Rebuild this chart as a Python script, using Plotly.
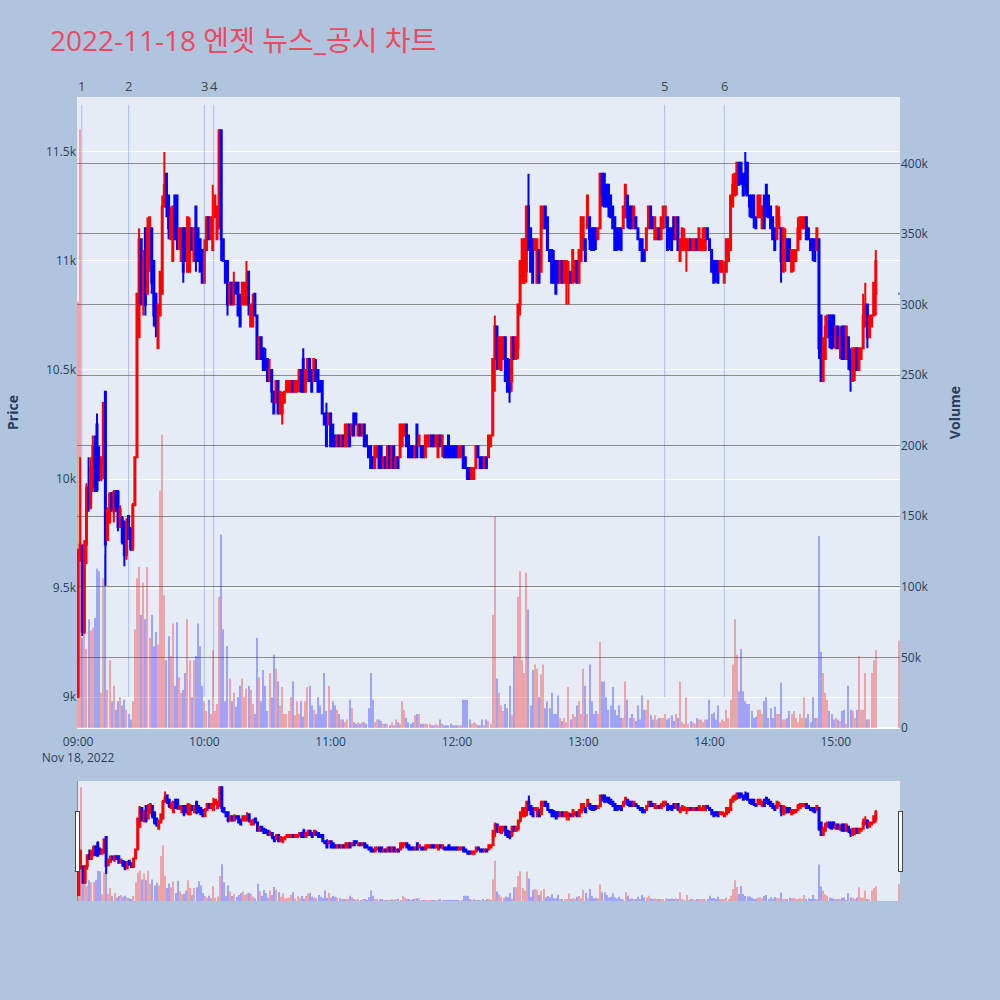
import pandas as pd
import plotly.graph_objects as go
from plotly.subplots import make_subplots

TITLE = "2022-11-18 엔젯 뉴스_공시 차트"

# minute timestamps: 09:00 .. 15:19 continuous, then the 15:30 closing auction
times = list(pd.date_range("2022-11-18 09:00", periods=380, freq="min")) + [pd.Timestamp("2022-11-18 15:30")]

open_ = [
    9000, 9650, 9690, 9300, 9700, 9960, 9870, 10050, 10150, 10250,
    10100, 10000, 10050, 10400, 9720, 9800, 9930, 9850, 9940, 9940,
    9780, 9820, 9800, 9650, 9830, 9770, 9680, 9880, 10100, 10650,
    11100, 10800, 11150, 10850, 11000, 11150, 11000, 10850, 10600, 10750,
    10850, 11250, 11400, 11300, 11100, 11000, 11300, 11300, 11100, 11000,
    11150, 11150, 10950, 10950, 11150, 11000, 11250, 11150, 11100, 11050,
    10900, 11050, 11200, 11100, 11050, 11200, 11100, 11150, 11600, 11100,
    11000, 11000, 10800, 10900, 10800, 10900, 10900, 10800, 10800, 10800,
    10800, 10950, 10700, 10700, 10850, 10750, 10550, 10650, 10600, 10550,
    10550, 10450, 10500, 10400, 10350, 10450, 10300, 10300, 10350, 10400,
    10400, 10400, 10450, 10400, 10400, 10450, 10500, 10550, 10400, 10450,
    10550, 10500, 10450, 10500, 10500, 10450, 10450, 10300, 10300, 10250,
    10300, 10250, 10200, 10150, 10200, 10150, 10200, 10150, 10150, 10250,
    10200, 10300, 10300, 10200, 10250, 10200, 10250, 10200, 10150, 10150,
    10100, 10050, 10100, 10150, 10150, 10050, 10100, 10050, 10150, 10050,
    10150, 10050, 10100, 10100, 10150, 10200, 10250, 10200, 10150, 10150,
    10100, 10250, 10150, 10150, 10150, 10100, 10150, 10150, 10200, 10200,
    10150, 10100, 10200, 10150, 10150, 10150, 10200, 10150, 10150, 10150,
    10150, 10100, 10100, 10150, 10100, 10050, 10050, 10000, 10000, 10050,
    10150, 10100, 10100, 10050, 10100, 10100, 10150, 10200, 10550, 10700,
    10550, 10500, 10550, 10650, 10550, 10450, 10450, 10650, 10550, 10600,
    10800, 10900, 10900, 10950, 11250, 11150, 11100, 11050, 10900, 11050,
    10950, 11150, 11250, 11200, 11050, 11050, 11000, 11000, 11000, 10900,
    11000, 10900, 10900, 10900, 10950, 10900, 10950, 11000, 10900, 11000,
    11050, 11100, 11150, 11200, 11150, 11150, 11150, 11100, 11150, 11400,
    11400, 11350, 11350, 11300, 11250, 11200, 11150, 11150, 11150, 11150,
    11200, 11300, 11250, 11250, 11150, 11200, 11150, 11100, 11100, 11050,
    11050, 11150, 11250, 11200, 11100, 11100, 11150, 11100, 11150, 11200,
    11200, 11150, 11150, 11200, 11100, 11200, 11000, 11050, 11050, 11050,
    11050, 11100, 11050, 11050, 11100, 11050, 11050, 11050, 11050, 11150,
    11100, 11050, 11000, 11000, 11000, 10950, 10950, 10900, 10950, 11000,
    11050, 11250, 11300, 11350, 11450, 11450, 11400, 11400, 11450, 11300,
    11300, 11300, 11200, 11200, 11200, 11150, 11300, 11350, 11300, 11250,
    11200, 11150, 11100, 11150, 11150, 10950, 11000, 11100, 11100, 10950,
    11000, 11000, 11050, 11100, 11150, 11150, 11200, 11150, 11100, 11100,
    11100, 11050, 11100, 10750, 10450, 10550, 10650, 10750, 10750, 10750,
    10600, 10700, 10600, 10700, 10700, 10550, 10650, 10550, 10450, 10500,
    10600, 10500, 10550, 10600, 10700, 10800, 10650, 10700, 10750, 10850,
    10850,
]
high = [
    9680, 10100, 9700, 9720, 9980, 10100, 10100, 10200, 10200, 10300,
    10150, 10100, 10350, 10400, 9870, 9940, 9940, 9950, 9950, 9950,
    9880, 9830, 9810, 9820, 9830, 9780, 9890, 10100, 10850, 11150,
    11100, 11050, 11150, 11200, 11200, 11150, 11000, 10850, 10800, 10950,
    11300, 11500, 11400, 11300, 11250, 11250, 11300, 11300, 11150, 11150,
    11150, 11150, 11200, 11200, 11150, 11150, 11250, 11150, 11100, 11050,
    11100, 11200, 11200, 11200, 11350, 11300, 11250, 11600, 11600, 11100,
    11000, 11000, 10900, 10900, 10950, 10900, 10900, 10850, 10900, 10900,
    11000, 10950, 10800, 10850, 10850, 10750, 10650, 10650, 10600, 10600,
    10550, 10550, 10500, 10400, 10450, 10450, 10400, 10400, 10400, 10450,
    10450, 10450, 10450, 10450, 10450, 10500, 10500, 10600, 10500, 10550,
    10550, 10500, 10550, 10550, 10500, 10450, 10450, 10300, 10350, 10300,
    10300, 10250, 10200, 10200, 10200, 10200, 10200, 10250, 10250, 10250,
    10250, 10300, 10300, 10250, 10250, 10250, 10250, 10200, 10150, 10150,
    10100, 10150, 10150, 10150, 10150, 10100, 10100, 10150, 10150, 10150,
    10150, 10100, 10100, 10250, 10250, 10250, 10250, 10200, 10150, 10150,
    10150, 10250, 10200, 10150, 10150, 10200, 10200, 10200, 10200, 10200,
    10200, 10200, 10200, 10200, 10150, 10150, 10200, 10150, 10150, 10150,
    10150, 10150, 10150, 10150, 10100, 10050, 10050, 10050, 10050, 10150,
    10150, 10100, 10100, 10100, 10100, 10200, 10200, 10550, 10750, 10700,
    10650, 10650, 10650, 10650, 10550, 10550, 10650, 10650, 10650, 10800,
    11000, 11100, 11100, 11250, 11400, 11150, 11100, 11100, 11100, 11050,
    11250, 11250, 11250, 11200, 11050, 11050, 11050, 11000, 11000, 11000,
    11000, 11000, 11000, 11000, 10950, 11050, 11000, 11000, 11050, 11200,
    11200, 11100, 11300, 11200, 11150, 11150, 11150, 11150, 11400, 11400,
    11400, 11350, 11350, 11300, 11250, 11200, 11150, 11150, 11150, 11250,
    11350, 11300, 11250, 11250, 11250, 11200, 11150, 11100, 11100, 11050,
    11150, 11250, 11250, 11200, 11200, 11150, 11150, 11200, 11250, 11250,
    11200, 11150, 11150, 11200, 11200, 11200, 11100, 11150, 11150, 11100,
    11100, 11100, 11100, 11100, 11100, 11150, 11100, 11150, 11150, 11150,
    11100, 11050, 11000, 11000, 11000, 11000, 11000, 11000, 11100, 11100,
    11300, 11400, 11400, 11450, 11450, 11450, 11400, 11500, 11450, 11300,
    11300, 11300, 11200, 11300, 11300, 11250, 11300, 11350, 11300, 11250,
    11200, 11150, 11250, 11250, 11150, 11150, 11150, 11100, 11100, 11050,
    11050, 11050, 11200, 11200, 11200, 11200, 11200, 11150, 11100, 11100,
    11100, 11150, 11100, 10750, 10650, 10750, 10750, 10750, 10750, 10750,
    10700, 10700, 10700, 10700, 10700, 10700, 10650, 10600, 10600, 10600,
    10600, 10600, 10600, 10850, 10900, 10800, 10750, 10750, 10900, 11050,
    10850,
]
low = [
    9000, 9620, 9280, 9290, 9610, 9850, 9860, 9940, 9940, 9940,
    9990, 9990, 10000, 9510, 9720, 9800, 9850, 9800, 9850, 9760,
    9780, 9700, 9600, 9630, 9720, 9670, 9670, 9880, 10100, 10650,
    10800, 10750, 10750, 10850, 10950, 10850, 10700, 10650, 10600, 10750,
    10850, 11250, 11200, 11100, 11100, 11000, 11100, 11050, 11050, 11000,
    10900, 11000, 10950, 10950, 11050, 11000, 10950, 11000, 10950, 10900,
    10900, 11050, 11100, 11100, 11050, 11200, 11100, 11150, 11000, 11000,
    10900, 10750, 10800, 10800, 10800, 10850, 10750, 10700, 10800, 10800,
    10800, 10750, 10700, 10700, 10750, 10550, 10550, 10550, 10500, 10500,
    10450, 10450, 10350, 10300, 10350, 10300, 10300, 10250, 10350, 10400,
    10400, 10400, 10400, 10400, 10400, 10400, 10400, 10400, 10400, 10450,
    10450, 10400, 10450, 10450, 10400, 10400, 10300, 10250, 10150, 10250,
    10150, 10150, 10150, 10150, 10150, 10150, 10150, 10150, 10150, 10150,
    10200, 10200, 10250, 10200, 10200, 10200, 10150, 10150, 10100, 10050,
    10050, 10050, 10100, 10050, 10050, 10050, 10050, 10050, 10050, 10050,
    10050, 10050, 10050, 10100, 10150, 10200, 10150, 10100, 10100, 10100,
    10100, 10100, 10150, 10100, 10100, 10100, 10150, 10150, 10150, 10150,
    10150, 10100, 10150, 10100, 10100, 10100, 10100, 10100, 10100, 10100,
    10100, 10100, 10100, 10050, 10050, 10000, 10000, 10000, 10000, 10050,
    10100, 10050, 10050, 10050, 10050, 10100, 10150, 10200, 10400, 10500,
    10500, 10500, 10550, 10450, 10400, 10350, 10400, 10550, 10550, 10550,
    10750, 10900, 10900, 10900, 11050, 10950, 10900, 11050, 10900, 10900,
    10950, 11150, 11150, 11050, 11000, 10900, 10900, 10850, 10900, 10900,
    10900, 10900, 10800, 10800, 10900, 10900, 10900, 10900, 10900, 11000,
    11050, 11000, 11150, 11050, 11050, 11050, 11050, 11100, 11150, 11250,
    11250, 11250, 11200, 11200, 11150, 11050, 11050, 11050, 11050, 11150,
    11200, 11150, 11150, 11150, 11150, 11150, 11100, 11050, 11000, 11000,
    11050, 11150, 11150, 11150, 11100, 11100, 11100, 11100, 11150, 11150,
    11050, 11050, 11050, 11100, 11100, 11050, 11000, 11050, 11050, 10950,
    11050, 11050, 11050, 11050, 11050, 11050, 11050, 11050, 11050, 11100,
    11050, 10950, 10900, 10900, 10900, 10950, 10950, 10900, 10950, 11000,
    11050, 11250, 11300, 11300, 11350, 11350, 11300, 11300, 11300, 11200,
    11200, 11150, 11150, 11200, 11200, 11150, 11150, 11200, 11200, 11150,
    11100, 11050, 11100, 11150, 10900, 10950, 10950, 11000, 11000, 10950,
    10950, 11000, 11050, 11100, 11150, 11150, 11100, 11100, 11050, 11000,
    11000, 11050, 10550, 10450, 10450, 10550, 10650, 10600, 10600, 10600,
    10600, 10600, 10550, 10550, 10550, 10550, 10500, 10400, 10450, 10450,
    10500, 10500, 10550, 10600, 10700, 10600, 10650, 10700, 10750, 10750,
    10850,
]
close = [
    9660, 9700, 9300, 9700, 9960, 9870, 10050, 10150, 9960, 9950,
    10000, 10100, 10350, 9700, 9860, 9930, 9860, 9940, 9870, 9780,
    9860, 9710, 9650, 9800, 9730, 9680, 9880, 10100, 10850, 11100,
    10800, 11000, 10800, 11150, 11200, 10900, 10750, 10700, 10800, 10950,
    11250, 11350, 11250, 11150, 11200, 11250, 11100, 11100, 11150, 11150,
    10950, 11000, 11200, 11150, 11050, 11150, 11000, 11000, 10950, 10900,
    11050, 11200, 11100, 11200, 11200, 11300, 11250, 11600, 11100, 11000,
    10900, 10800, 10900, 10800, 10900, 10850, 10750, 10700, 10900, 10900,
    10900, 10800, 10800, 10800, 10750, 10550, 10650, 10550, 10500, 10500,
    10450, 10500, 10400, 10300, 10450, 10300, 10400, 10350, 10400, 10450,
    10450, 10450, 10400, 10450, 10450, 10500, 10400, 10400, 10500, 10550,
    10450, 10400, 10550, 10450, 10400, 10400, 10300, 10250, 10150, 10300,
    10150, 10150, 10150, 10200, 10150, 10200, 10150, 10250, 10250, 10150,
    10250, 10200, 10250, 10250, 10200, 10250, 10150, 10150, 10100, 10050,
    10050, 10150, 10150, 10050, 10050, 10100, 10050, 10150, 10050, 10150,
    10050, 10100, 10050, 10250, 10250, 10250, 10150, 10100, 10100, 10100,
    10150, 10100, 10200, 10100, 10100, 10200, 10200, 10200, 10150, 10150,
    10200, 10200, 10150, 10200, 10100, 10100, 10100, 10100, 10100, 10100,
    10100, 10150, 10150, 10050, 10050, 10000, 10000, 10050, 10050, 10150,
    10100, 10050, 10050, 10100, 10050, 10200, 10200, 10550, 10700, 10550,
    10650, 10650, 10650, 10450, 10400, 10400, 10650, 10550, 10650, 10800,
    11000, 11100, 11100, 11250, 11050, 10950, 10900, 11100, 11100, 10900,
    11250, 11250, 11150, 11050, 11000, 10900, 10900, 10850, 10900, 11000,
    10900, 11000, 11000, 10950, 10900, 11050, 11000, 10900, 11050, 11200,
    11200, 11000, 11300, 11100, 11050, 11050, 11100, 11150, 11400, 11300,
    11250, 11250, 11250, 11200, 11150, 11050, 11050, 11100, 11050, 11250,
    11350, 11200, 11150, 11150, 11250, 11150, 11100, 11050, 11000, 11000,
    11150, 11250, 11150, 11150, 11200, 11150, 11100, 11200, 11250, 11250,
    11050, 11100, 11050, 11100, 11200, 11050, 11100, 11150, 11100, 11100,
    11100, 11050, 11100, 11100, 11050, 11150, 11100, 11150, 11150, 11100,
    11050, 10950, 10900, 10950, 10900, 11000, 11000, 10950, 11100, 11100,
    11300, 11350, 11400, 11450, 11350, 11400, 11300, 11350, 11300, 11250,
    11200, 11200, 11150, 11300, 11300, 11250, 11150, 11250, 11200, 11150,
    11100, 11050, 11250, 11200, 11000, 11150, 11050, 11000, 11000, 11050,
    11050, 11050, 11150, 11200, 11200, 11200, 11100, 11100, 11050, 11050,
    11000, 11150, 10600, 10450, 10600, 10700, 10750, 10650, 10600, 10650,
    10700, 10600, 10650, 10550, 10550, 10700, 10550, 10500, 10600, 10600,
    10500, 10600, 10600, 10750, 10800, 10650, 10750, 10750, 10900, 11000,
    10850,
]
volume = [
    302000, 424000, 64000, 111000, 56000, 77000, 69000, 71000, 78000, 113000,
    111000, 25000, 106000, 123000, 27000, 48000, 19000, 30000, 13000, 19000,
    22000, 16000, 20000, 13000, 10000, 6000, 19000, 70000, 106000, 114000,
    80000, 103000, 77000, 114000, 64000, 80000, 58000, 68000, 59000, 168000,
    208000, 94000, 48000, 65000, 51000, 74000, 30000, 75000, 36000, 25000,
    27000, 39000, 77000, 48000, 22000, 48000, 51000, 74000, 58000, 30000,
    19000, 12000, 20000, 10000, 55000, 12000, 17000, 93000, 137000, 70000,
    19000, 58000, 35000, 19000, 25000, 15000, 22000, 30000, 35000, 22000,
    28000, 30000, 27000, 17000, 10000, 64000, 36000, 19000, 41000, 30000,
    12000, 39000, 22000, 52000, 42000, 33000, 16000, 29000, 10000, 10000,
    12000, 22000, 33000, 9000, 19000, 10000, 19000, 8000, 19000, 29000,
    30000, 16000, 13000, 10000, 22000, 16000, 10000, 39000, 12000, 30000,
    13000, 19000, 16000, 13000, 10000, 6000, 6000, 4000, 6000, 20000,
    14000, 4000, 3000, 4000, 3000, 4000, 4000, 3000, 14000, 39000,
    20000, 4000, 6000, 6000, 5000, 3000, 3000, 3000, 2000, 4000,
    2000, 6000, 4000, 3000, 19000, 13000, 7000, 4000, 3000, 4000,
    9000, 10000, 10000, 3000, 3000, 3000, 3000, 3000, 2000, 2000,
    3000, 2000, 6000, 3000, 2000, 2000, 2000, 3000, 2000, 2000,
    2000, 2000, 2000, 20000, 20000, 20000, 6000, 3000, 4000, 3000,
    2000, 2000, 6000, 2000, 6000, 5000, 3000, 80000, 150000, 35000,
    25000, 16000, 12000, 17000, 14000, 30000, 9000, 51000, 51000, 93000,
    111000, 48000, 39000, 110000, 84000, 16000, 41000, 45000, 42000, 22000,
    38000, 45000, 14000, 19000, 14000, 25000, 10000, 10000, 23000, 7000,
    5000, 7000, 4000, 29000, 6000, 10000, 8000, 16000, 19000, 10000,
    42000, 30000, 10000, 45000, 19000, 10000, 12000, 10000, 61000, 33000,
    33000, 22000, 13000, 16000, 29000, 13000, 9000, 16000, 7000, 7000,
    33000, 20000, 7000, 10000, 7000, 5000, 16000, 6000, 23000, 13000,
    13000, 20000, 9000, 6000, 9000, 6000, 7000, 7000, 7000, 10000,
    6000, 7000, 9000, 5000, 10000, 7000, 33000, 4000, 3000, 22000,
    3000, 5000, 4000, 3000, 7000, 6000, 6000, 4000, 6000, 6000,
    20000, 10000, 11000, 6000, 16000, 4000, 6000, 5000, 13000, 7000,
    20000, 45000, 77000, 52000, 26000, 56000, 26000, 19000, 17000, 17000,
    12000, 7000, 8000, 13000, 13000, 10000, 19000, 22000, 7000, 14000,
    7000, 15000, 10000, 10000, 32000, 6000, 6000, 7000, 12000, 10000,
    12000, 7000, 4000, 10000, 7000, 22000, 7000, 10000, 4000, 22000,
    7000, 7000, 136000, 54000, 39000, 25000, 20000, 12000, 10000, 6000,
    7000, 6000, 5000, 12000, 13000, 3000, 30000, 13000, 12000, 7000,
    13000, 51000, 13000, 13000, 39000, 6000, 6000, 39000, 48000, 55000,
    62000,
]

# news / disclosure markers
event_labels = ["1", "2", "3", "4", "5", "6"]
event_times = ["2022-11-18 09:01:45", "2022-11-18 09:24:00", "2022-11-18 10:00:00",
               "2022-11-18 10:04:25", "2022-11-18 13:38:40", "2022-11-18 14:07:00"]
line_low, line_high = 9000, 11716

vol_colors = ["red" if c >= o else "blue" for o, c in zip(open_, close)]

fig = make_subplots(specs=[[{"secondary_y": True}]])
fig.add_trace(go.Candlestick(
    x=times, open=open_, high=high, low=low, close=close, name="Price",
    increasing=dict(line=dict(color="red", width=2), fillcolor="red"),
    decreasing=dict(line=dict(color="blue", width=2), fillcolor="blue"),
    showlegend=False,
), secondary_y=False)
fig.add_trace(go.Bar(
    x=times, y=volume, name="Volume", marker=dict(color=vol_colors, line=dict(width=0)),
    opacity=0.3, showlegend=False,
), secondary_y=True)

for lab, t in zip(event_labels, event_times):
    fig.add_shape(type="line", xref="x", yref="y", x0=t, x1=t, y0=line_low, y1=line_high,
                  line=dict(color="rgba(65,105,225,0.35)", width=1))
    fig.add_annotation(x=t, xref="x", y=1, yref="paper", yanchor="bottom", text=lab,
                       showarrow=False, font=dict(size=13, color="#444"))

fig.update_layout(
    width=1000, height=1000,
    paper_bgcolor="#B0C4DE", plot_bgcolor="#E5ECF6",
    margin=dict(l=77, r=100, t=97, b=272, autoexpand=False),
    title=dict(text=TITLE, x=0.05, xanchor="left", y=0.959, yanchor="middle",
               font=dict(size=28, color="#EB4A63", family="Open Sans, Noto Sans CJK KR")),
    showlegend=False,
    bargap=0.5,
)
fig.update_xaxes(
    domain=[0, 1],
    range=["2022-11-18 08:59:30", "2022-11-18 15:30:30"],
    rangeslider=dict(visible=True, bgcolor="#E5ECF6", thickness=0.19),
    showgrid=False, automargin=False,
    ticks="outside", ticklen=3, tickcolor="rgba(0,0,0,0)",
)
fig.update_yaxes(title=dict(text="<b>Price</b>", standoff=24), range=[8858, 11752],
                 gridcolor="white", automargin=False, secondary_y=False)
fig.update_yaxes(title=dict(text="<b>Volume</b>", standoff=22), range=[0, 447000], showgrid=True,
                 gridcolor="#8c8c8c", automargin=False, secondary_y=True)

fig.write_html("out.html", config={"displayModeBar": False},
               post_script="document.body.style.margin='0';")
